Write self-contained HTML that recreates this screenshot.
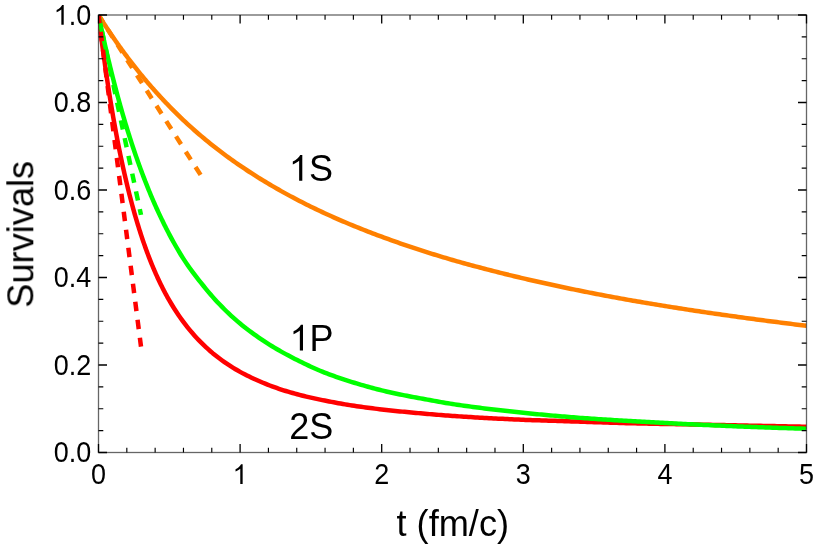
<!DOCTYPE html>
<html><head><meta charset="utf-8"><title>Survivals</title>
<style>
html,body{margin:0;padding:0;background:#fff;}
body{width:814px;height:545px;overflow:hidden;font-family:"Liberation Sans",sans-serif;}
svg{display:block;}
text{font-family:"Liberation Sans",sans-serif;fill:#000;}
.t{filter:grayscale(1);}
</style></head><body>
<svg width="814" height="545" viewBox="0 0 814 545">
<rect width="814" height="545" fill="#fff"/>
<defs><clipPath id="c"><rect x="98.5" y="15.0" width="708.0" height="437.5"/></clipPath></defs>
<g clip-path="url(#c)" fill="none" stroke-linejoin="round">
<path d="M98.50,15.00 L99.09,15.94 L99.68,16.88 L100.27,17.82 L100.86,18.75 L101.45,19.68 L102.04,20.60 L102.63,21.52 L103.22,22.44 L103.81,23.35 L104.40,24.26 L104.99,25.17 L105.58,26.07 L106.17,26.97 L106.76,27.87 L107.35,28.76 L107.94,29.65 L108.53,30.54 L109.12,31.42 L109.71,32.30 L110.30,33.18 L110.89,34.05 L111.48,34.92 L112.07,35.79 L112.66,36.65 L113.25,37.51 L113.84,38.37 L114.43,39.22 L115.02,40.07 L115.61,40.92 L116.20,41.76 L116.79,42.60 L117.38,43.44 L117.97,44.28 L118.56,45.11 L119.15,45.94 L119.74,46.76 L120.33,47.58 L120.92,48.40 L121.51,49.22 L122.10,50.03 L122.69,50.84 L123.28,51.65 L123.87,52.46 L124.46,53.26 L125.05,54.06 L125.64,54.85 L126.23,55.65 L126.82,56.44 L127.41,57.23 L128.00,58.01 L128.59,58.79 L129.18,59.57 L129.77,60.35 L130.36,61.12 L130.95,61.89 L131.54,62.66 L132.13,63.43 L132.72,64.19 L133.31,64.95 L133.90,65.71 L134.49,66.46 L135.08,67.21 L135.67,67.96 L136.26,68.71 L136.85,69.45 L137.44,70.19 L138.03,70.93 L138.62,71.66 L139.21,72.39 L139.80,73.12 L140.39,73.85 L140.98,74.57 L141.57,75.29 L142.16,76.01 L142.75,76.72 L143.34,77.44 L143.93,78.15 L144.52,78.85 L145.11,79.55 L145.70,80.26 L146.29,80.95 L146.88,81.65 L147.47,82.34 L148.06,83.03 L148.65,83.72 L149.24,84.40 L149.83,85.08 L150.42,85.76 L151.01,86.43 L151.60,87.11 L152.19,87.78 L152.78,88.45 L153.37,89.11 L153.96,89.78 L154.55,90.44 L155.14,91.10 L155.73,91.76 L156.32,92.41 L156.91,93.06 L157.50,93.71 L158.09,94.36 L158.68,95.01 L159.27,95.65 L159.86,96.29 L160.45,96.93 L161.04,97.57 L161.63,98.20 L162.22,98.84 L162.81,99.47 L163.40,100.10 L163.99,100.72 L164.58,101.35 L165.17,101.97 L165.76,102.59 L166.35,103.20 L166.94,103.82 L167.53,104.43 L168.12,105.04 L168.71,105.65 L169.30,106.26 L171.58,108.59 L173.87,110.88 L176.15,113.15 L178.44,115.38 L180.72,117.59 L183.00,119.76 L185.29,121.91 L187.57,124.03 L189.85,126.11 L192.14,128.17 L194.42,130.20 L196.71,132.20 L198.99,134.18 L201.27,136.13 L203.56,138.05 L205.84,139.94 L208.13,141.82 L210.41,143.66 L212.69,145.49 L214.98,147.29 L217.26,149.07 L219.55,150.82 L221.83,152.56 L224.11,154.27 L226.40,155.96 L228.68,157.64 L230.96,159.29 L233.25,160.92 L235.53,162.52 L237.82,164.11 L240.10,165.67 L242.38,167.22 L244.67,168.74 L246.95,170.25 L249.24,171.74 L251.52,173.21 L253.80,174.67 L256.09,176.12 L258.37,177.55 L260.65,178.97 L262.94,180.37 L265.22,181.76 L267.51,183.13 L269.79,184.50 L272.07,185.84 L274.36,187.18 L276.64,188.49 L278.93,189.80 L281.21,191.09 L283.49,192.37 L285.78,193.63 L288.06,194.88 L290.35,196.12 L292.63,197.35 L294.91,198.56 L297.20,199.76 L299.48,200.94 L301.76,202.11 L304.05,203.27 L306.33,204.42 L308.62,205.56 L310.90,206.68 L313.18,207.80 L315.47,208.90 L317.75,209.99 L320.04,211.07 L322.32,212.14 L324.60,213.20 L326.89,214.25 L329.17,215.28 L331.45,216.31 L333.74,217.33 L336.02,218.34 L338.31,219.34 L340.59,220.33 L342.87,221.31 L345.16,222.29 L347.44,223.25 L349.73,224.21 L352.01,225.15 L354.29,226.09 L356.58,227.02 L358.86,227.94 L361.15,228.86 L363.43,229.76 L365.71,230.66 L368.00,231.54 L370.28,232.42 L372.56,233.30 L374.85,234.16 L377.13,235.02 L379.42,235.87 L381.70,236.72 L383.98,237.56 L386.27,238.39 L388.55,239.22 L390.84,240.04 L393.12,240.85 L395.40,241.66 L397.69,242.46 L399.97,243.26 L402.25,244.05 L404.54,244.84 L406.82,245.62 L409.11,246.39 L411.39,247.16 L413.67,247.92 L415.96,248.67 L418.24,249.42 L420.53,250.16 L422.81,250.90 L425.09,251.63 L427.38,252.36 L429.66,253.08 L431.95,253.79 L434.23,254.50 L436.51,255.20 L438.80,255.90 L441.08,256.59 L443.36,257.28 L445.65,257.96 L447.93,258.64 L450.22,259.31 L452.50,259.98 L454.78,260.64 L457.07,261.29 L459.35,261.94 L461.64,262.58 L463.92,263.22 L466.20,263.85 L468.49,264.48 L470.77,265.10 L473.05,265.72 L475.34,266.34 L477.62,266.95 L479.91,267.55 L482.19,268.15 L484.47,268.75 L486.76,269.34 L489.04,269.93 L491.33,270.52 L493.61,271.10 L495.89,271.68 L498.18,272.26 L500.46,272.83 L502.75,273.40 L505.03,273.97 L507.31,274.54 L509.60,275.09 L511.88,275.65 L514.16,276.20 L516.45,276.75 L518.73,277.30 L521.02,277.84 L523.30,278.38 L525.58,278.91 L527.87,279.44 L530.15,279.97 L532.44,280.49 L534.72,281.02 L537.00,281.53 L539.29,282.05 L541.57,282.56 L543.85,283.07 L546.14,283.57 L548.42,284.07 L550.71,284.57 L552.99,285.07 L555.27,285.56 L557.56,286.05 L559.84,286.54 L562.13,287.02 L564.41,287.50 L566.69,287.98 L568.98,288.46 L571.26,288.93 L573.55,289.40 L575.83,289.87 L578.11,290.33 L580.40,290.79 L582.68,291.25 L584.96,291.71 L587.25,292.16 L589.53,292.61 L591.82,293.06 L594.10,293.50 L596.38,293.95 L598.67,294.39 L600.95,294.82 L603.24,295.26 L605.52,295.69 L607.80,296.12 L610.09,296.55 L612.37,296.97 L614.65,297.39 L616.94,297.81 L619.22,298.22 L621.51,298.63 L623.79,299.04 L626.07,299.45 L628.36,299.85 L630.64,300.26 L632.93,300.66 L635.21,301.05 L637.49,301.45 L639.78,301.84 L642.06,302.23 L644.35,302.62 L646.63,303.00 L648.91,303.39 L651.20,303.77 L653.48,304.15 L655.76,304.52 L658.05,304.90 L660.33,305.27 L662.62,305.64 L664.90,306.01 L667.18,306.38 L669.47,306.74 L671.75,307.11 L674.04,307.47 L676.32,307.83 L678.60,308.19 L680.89,308.55 L683.17,308.90 L685.45,309.26 L687.74,309.61 L690.02,309.96 L692.31,310.31 L694.59,310.65 L696.87,311.00 L699.16,311.34 L701.44,311.68 L703.73,312.02 L706.01,312.36 L708.29,312.69 L710.58,313.03 L712.86,313.36 L715.15,313.69 L717.43,314.02 L719.71,314.35 L722.00,314.67 L724.28,315.00 L726.56,315.32 L728.85,315.64 L731.13,315.96 L733.42,316.28 L735.70,316.60 L737.98,316.92 L740.27,317.23 L742.55,317.54 L744.84,317.86 L747.12,318.17 L749.40,318.48 L751.69,318.79 L753.97,319.09 L756.25,319.40 L758.54,319.70 L760.82,320.01 L763.11,320.31 L765.39,320.61 L767.67,320.91 L769.96,321.21 L772.24,321.50 L774.53,321.80 L776.81,322.09 L779.09,322.39 L781.38,322.68 L783.66,322.97 L785.95,323.26 L788.23,323.55 L790.51,323.83 L792.80,324.12 L795.08,324.40 L797.36,324.69 L799.65,324.97 L801.93,325.25 L804.22,325.53 L806.50,325.81" stroke="#ff8000" stroke-width="4.5"/>
<path d="M98.50,15.00 L99.09,19.88 L99.68,24.68 L100.27,29.41 L100.86,34.07 L101.45,38.65 L102.04,43.17 L102.63,47.62 L103.22,52.00 L103.81,56.31 L104.40,60.56 L104.99,64.75 L105.58,68.87 L106.17,72.93 L106.76,76.93 L107.35,80.88 L107.94,84.76 L108.53,88.59 L109.12,92.36 L109.71,96.08 L110.30,99.75 L110.89,103.36 L111.48,106.91 L112.07,110.42 L112.66,113.88 L113.25,117.29 L113.84,120.65 L114.43,123.96 L115.02,127.22 L115.61,130.44 L116.20,133.62 L116.79,136.75 L117.38,139.83 L117.97,142.88 L118.56,145.88 L119.15,148.84 L119.74,151.76 L120.33,154.63 L120.92,157.47 L121.51,160.27 L122.10,163.04 L122.69,165.76 L123.28,168.45 L123.87,171.10 L124.46,173.72 L125.05,176.30 L125.64,178.85 L126.23,181.36 L126.82,183.84 L127.41,186.28 L128.00,188.70 L128.59,191.08 L129.18,193.43 L129.77,195.75 L130.36,198.04 L130.95,200.30 L131.54,202.53 L132.13,204.74 L132.72,206.91 L133.31,209.06 L133.90,211.18 L134.49,213.27 L135.08,215.33 L135.67,217.37 L136.26,219.38 L136.85,221.37 L137.44,223.33 L138.03,225.27 L138.62,227.18 L139.21,229.07 L139.80,230.94 L140.39,232.78 L140.98,234.60 L141.57,236.40 L142.16,238.18 L142.75,239.93 L143.34,241.66 L143.93,243.37 L144.52,245.06 L145.11,246.73 L145.70,248.38 L146.29,250.01 L146.88,251.62 L147.47,253.21 L148.06,254.78 L148.65,256.33 L149.24,257.87 L149.83,259.38 L150.42,260.88 L151.01,262.36 L151.60,263.82 L152.19,265.26 L152.78,266.69 L153.37,268.10 L153.96,269.49 L154.55,270.86 L155.14,272.22 L155.73,273.56 L156.32,274.88 L156.91,276.19 L157.50,277.48 L158.09,278.76 L158.68,280.02 L159.27,281.27 L159.86,282.50 L160.45,283.72 L161.04,284.93 L161.63,286.11 L162.22,287.29 L162.81,288.45 L163.40,289.60 L163.99,290.74 L164.58,291.86 L165.17,292.97 L165.76,294.07 L166.35,295.15 L166.94,296.22 L167.53,297.29 L168.12,298.33 L168.71,299.37 L169.30,300.40 L171.58,304.26 L173.87,307.97 L176.15,311.53 L178.44,314.95 L180.72,318.24 L183.00,321.39 L185.29,324.42 L187.57,327.34 L189.85,330.14 L192.14,332.83 L194.42,335.43 L196.71,337.93 L198.99,340.34 L201.27,342.68 L203.56,344.93 L205.84,347.09 L208.13,349.18 L210.41,351.19 L212.69,353.14 L214.98,355.01 L217.26,356.82 L219.55,358.56 L221.83,360.25 L224.11,361.88 L226.40,363.45 L228.68,364.97 L230.96,366.44 L233.25,367.86 L235.53,369.23 L237.82,370.56 L240.10,371.85 L242.38,373.10 L244.67,374.30 L246.95,375.47 L249.24,376.60 L251.52,377.70 L253.80,378.77 L256.09,379.80 L258.37,380.82 L260.65,381.80 L262.94,382.76 L265.22,383.69 L267.51,384.60 L269.79,385.48 L272.07,386.33 L274.36,387.17 L276.64,387.98 L278.93,388.76 L281.21,389.53 L283.49,390.27 L285.78,390.99 L288.06,391.69 L290.35,392.36 L292.63,393.02 L294.91,393.65 L297.20,394.27 L299.48,394.87 L301.76,395.46 L304.05,396.03 L306.33,396.58 L308.62,397.13 L310.90,397.65 L313.18,398.17 L315.47,398.67 L317.75,399.16 L320.04,399.64 L322.32,400.11 L324.60,400.57 L326.89,401.02 L329.17,401.47 L331.45,401.90 L333.74,402.33 L336.02,402.75 L338.31,403.17 L340.59,403.57 L342.87,403.97 L345.16,404.35 L347.44,404.73 L349.73,405.10 L352.01,405.46 L354.29,405.81 L356.58,406.15 L358.86,406.48 L361.15,406.80 L363.43,407.12 L365.71,407.43 L368.00,407.74 L370.28,408.03 L372.56,408.32 L374.85,408.61 L377.13,408.89 L379.42,409.16 L381.70,409.43 L383.98,409.69 L386.27,409.95 L388.55,410.20 L390.84,410.45 L393.12,410.69 L395.40,410.93 L397.69,411.16 L399.97,411.39 L402.25,411.62 L404.54,411.85 L406.82,412.07 L409.11,412.29 L411.39,412.50 L413.67,412.71 L415.96,412.92 L418.24,413.13 L420.53,413.34 L422.81,413.54 L425.09,413.74 L427.38,413.94 L429.66,414.13 L431.95,414.32 L434.23,414.51 L436.51,414.70 L438.80,414.88 L441.08,415.06 L443.36,415.24 L445.65,415.41 L447.93,415.58 L450.22,415.75 L452.50,415.91 L454.78,416.07 L457.07,416.22 L459.35,416.38 L461.64,416.52 L463.92,416.67 L466.20,416.82 L468.49,416.96 L470.77,417.10 L473.05,417.24 L475.34,417.38 L477.62,417.51 L479.91,417.64 L482.19,417.77 L484.47,417.90 L486.76,418.03 L489.04,418.16 L491.33,418.28 L493.61,418.40 L495.89,418.52 L498.18,418.64 L500.46,418.75 L502.75,418.87 L505.03,418.98 L507.31,419.09 L509.60,419.19 L511.88,419.30 L514.16,419.40 L516.45,419.50 L518.73,419.60 L521.02,419.70 L523.30,419.79 L525.58,419.88 L527.87,419.97 L530.15,420.06 L532.44,420.14 L534.72,420.22 L537.00,420.30 L539.29,420.37 L541.57,420.45 L543.85,420.52 L546.14,420.59 L548.42,420.66 L550.71,420.73 L552.99,420.80 L555.27,420.87 L557.56,420.95 L559.84,421.02 L562.13,421.09 L564.41,421.16 L566.69,421.23 L568.98,421.31 L571.26,421.39 L573.55,421.46 L575.83,421.54 L578.11,421.62 L580.40,421.69 L582.68,421.77 L584.96,421.85 L587.25,421.92 L589.53,422.00 L591.82,422.07 L594.10,422.15 L596.38,422.22 L598.67,422.30 L600.95,422.37 L603.24,422.44 L605.52,422.52 L607.80,422.59 L610.09,422.66 L612.37,422.73 L614.65,422.80 L616.94,422.87 L619.22,422.93 L621.51,423.00 L623.79,423.06 L626.07,423.13 L628.36,423.19 L630.64,423.25 L632.93,423.31 L635.21,423.37 L637.49,423.42 L639.78,423.47 L642.06,423.53 L644.35,423.58 L646.63,423.62 L648.91,423.67 L651.20,423.71 L653.48,423.76 L655.76,423.80 L658.05,423.84 L660.33,423.88 L662.62,423.93 L664.90,423.97 L667.18,424.00 L669.47,424.04 L671.75,424.08 L674.04,424.12 L676.32,424.16 L678.60,424.20 L680.89,424.24 L683.17,424.28 L685.45,424.32 L687.74,424.37 L690.02,424.41 L692.31,424.45 L694.59,424.50 L696.87,424.55 L699.16,424.59 L701.44,424.64 L703.73,424.69 L706.01,424.74 L708.29,424.79 L710.58,424.84 L712.86,424.89 L715.15,424.93 L717.43,424.98 L719.71,425.03 L722.00,425.08 L724.28,425.12 L726.56,425.17 L728.85,425.22 L731.13,425.26 L733.42,425.31 L735.70,425.36 L737.98,425.40 L740.27,425.45 L742.55,425.49 L744.84,425.54 L747.12,425.58 L749.40,425.63 L751.69,425.68 L753.97,425.72 L756.25,425.77 L758.54,425.81 L760.82,425.86 L763.11,425.90 L765.39,425.95 L767.67,425.99 L769.96,426.03 L772.24,426.08 L774.53,426.12 L776.81,426.17 L779.09,426.21 L781.38,426.26 L783.66,426.30 L785.95,426.35 L788.23,426.39 L790.51,426.44 L792.80,426.48 L795.08,426.53 L797.36,426.57 L799.65,426.62 L801.93,426.66 L804.22,426.71 L806.50,426.75" stroke="#ff0000" stroke-width="4.5"/>
<path d="M98.50,15.00 L99.09,17.84 L99.68,20.65 L100.27,23.44 L100.86,26.21 L101.45,28.95 L102.04,31.68 L102.63,34.38 L103.22,37.05 L103.81,39.71 L104.40,42.34 L104.99,44.95 L105.58,47.54 L106.17,50.10 L106.76,52.65 L107.35,55.18 L107.94,57.68 L108.53,60.16 L109.12,62.63 L109.71,65.07 L110.30,67.50 L110.89,69.90 L111.48,72.28 L112.07,74.65 L112.66,76.99 L113.25,79.32 L113.84,81.63 L114.43,83.91 L115.02,86.18 L115.61,88.44 L116.20,90.67 L116.79,92.88 L117.38,95.08 L117.97,97.26 L118.56,99.42 L119.15,101.57 L119.74,103.70 L120.33,105.81 L120.92,107.90 L121.51,109.98 L122.10,112.04 L122.69,114.08 L123.28,116.11 L123.87,118.12 L124.46,120.12 L125.05,122.10 L125.64,124.06 L126.23,126.01 L126.82,127.94 L127.41,129.86 L128.00,131.76 L128.59,133.65 L129.18,135.52 L129.77,137.38 L130.36,139.22 L130.95,141.05 L131.54,142.87 L132.13,144.67 L132.72,146.46 L133.31,148.23 L133.90,149.99 L134.49,151.73 L135.08,153.46 L135.67,155.18 L136.26,156.89 L136.85,158.58 L137.44,160.26 L138.03,161.92 L138.62,163.57 L139.21,165.21 L139.80,166.84 L140.39,168.46 L140.98,170.06 L141.57,171.65 L142.16,173.23 L142.75,174.79 L143.34,176.35 L143.93,177.89 L144.52,179.42 L145.11,180.94 L145.70,182.44 L146.29,183.94 L146.88,185.42 L147.47,186.90 L148.06,188.36 L148.65,189.81 L149.24,191.25 L149.83,192.68 L150.42,194.10 L151.01,195.51 L151.60,196.90 L152.19,198.29 L152.78,199.67 L153.37,201.03 L153.96,202.39 L154.55,203.73 L155.14,205.07 L155.73,206.39 L156.32,207.71 L156.91,209.02 L157.50,210.31 L158.09,211.60 L158.68,212.88 L159.27,214.14 L159.86,215.40 L160.45,216.65 L161.04,217.89 L161.63,219.12 L162.22,220.34 L162.81,221.56 L163.40,222.76 L163.99,223.96 L164.58,225.14 L165.17,226.32 L165.76,227.49 L166.35,228.65 L166.94,229.80 L167.53,230.95 L168.12,232.08 L168.71,233.21 L169.30,234.33 L171.58,238.58 L173.87,242.72 L176.15,246.75 L178.44,250.67 L180.72,254.47 L183.00,258.13 L185.29,261.64 L187.57,265.01 L189.85,268.26 L192.14,271.40 L194.42,274.46 L196.71,277.43 L198.99,280.34 L201.27,283.21 L203.56,286.03 L205.84,288.83 L208.13,291.58 L210.41,294.25 L212.69,296.86 L214.98,299.41 L217.26,301.90 L219.55,304.32 L221.83,306.68 L224.11,308.99 L226.40,311.24 L228.68,313.43 L230.96,315.57 L233.25,317.65 L235.53,319.68 L237.82,321.66 L240.10,323.59 L242.38,325.46 L244.67,327.27 L246.95,329.03 L249.24,330.75 L251.52,332.43 L253.80,334.08 L256.09,335.70 L258.37,337.30 L260.65,338.88 L262.94,340.42 L265.22,341.93 L267.51,343.40 L269.79,344.84 L272.07,346.25 L274.36,347.63 L276.64,348.98 L278.93,350.31 L281.21,351.60 L283.49,352.87 L285.78,354.11 L288.06,355.33 L290.35,356.52 L292.63,357.70 L294.91,358.88 L297.20,360.05 L299.48,361.21 L301.76,362.34 L304.05,363.46 L306.33,364.54 L308.62,365.62 L310.90,366.68 L313.18,367.72 L315.47,368.74 L317.75,369.74 L320.04,370.71 L322.32,371.65 L324.60,372.55 L326.89,373.44 L329.17,374.30 L331.45,375.15 L333.74,375.98 L336.02,376.79 L338.31,377.58 L340.59,378.36 L342.87,379.13 L345.16,379.88 L347.44,380.61 L349.73,381.34 L352.01,382.05 L354.29,382.75 L356.58,383.44 L358.86,384.12 L361.15,384.79 L363.43,385.45 L365.71,386.10 L368.00,386.75 L370.28,387.38 L372.56,388.00 L374.85,388.61 L377.13,389.20 L379.42,389.78 L381.70,390.35 L383.98,390.91 L386.27,391.45 L388.55,391.97 L390.84,392.48 L393.12,392.98 L395.40,393.48 L397.69,393.96 L399.97,394.44 L402.25,394.91 L404.54,395.37 L406.82,395.83 L409.11,396.28 L411.39,396.72 L413.67,397.15 L415.96,397.58 L418.24,398.00 L420.53,398.41 L422.81,398.83 L425.09,399.25 L427.38,399.66 L429.66,400.08 L431.95,400.50 L434.23,400.91 L436.51,401.32 L438.80,401.73 L441.08,402.13 L443.36,402.52 L445.65,402.91 L447.93,403.28 L450.22,403.65 L452.50,404.01 L454.78,404.36 L457.07,404.70 L459.35,405.03 L461.64,405.36 L463.92,405.69 L466.20,406.01 L468.49,406.33 L470.77,406.64 L473.05,406.94 L475.34,407.25 L477.62,407.55 L479.91,407.84 L482.19,408.13 L484.47,408.42 L486.76,408.70 L489.04,408.98 L491.33,409.26 L493.61,409.53 L495.89,409.80 L498.18,410.07 L500.46,410.33 L502.75,410.59 L505.03,410.85 L507.31,411.10 L509.60,411.35 L511.88,411.60 L514.16,411.84 L516.45,412.09 L518.73,412.32 L521.02,412.56 L523.30,412.80 L525.58,413.03 L527.87,413.26 L530.15,413.49 L532.44,413.71 L534.72,413.93 L537.00,414.15 L539.29,414.37 L541.57,414.59 L543.85,414.80 L546.14,415.01 L548.42,415.22 L550.71,415.43 L552.99,415.63 L555.27,415.83 L557.56,416.03 L559.84,416.23 L562.13,416.42 L564.41,416.61 L566.69,416.80 L568.98,416.98 L571.26,417.17 L573.55,417.35 L575.83,417.52 L578.11,417.70 L580.40,417.87 L582.68,418.03 L584.96,418.20 L587.25,418.36 L589.53,418.52 L591.82,418.67 L594.10,418.83 L596.38,418.98 L598.67,419.13 L600.95,419.28 L603.24,419.42 L605.52,419.57 L607.80,419.71 L610.09,419.85 L612.37,419.99 L614.65,420.13 L616.94,420.27 L619.22,420.40 L621.51,420.54 L623.79,420.68 L626.07,420.81 L628.36,420.95 L630.64,421.08 L632.93,421.21 L635.21,421.35 L637.49,421.48 L639.78,421.61 L642.06,421.74 L644.35,421.87 L646.63,421.99 L648.91,422.12 L651.20,422.25 L653.48,422.37 L655.76,422.49 L658.05,422.62 L660.33,422.74 L662.62,422.86 L664.90,422.98 L667.18,423.10 L669.47,423.21 L671.75,423.33 L674.04,423.45 L676.32,423.56 L678.60,423.68 L680.89,423.79 L683.17,423.90 L685.45,424.01 L687.74,424.13 L690.02,424.24 L692.31,424.35 L694.59,424.46 L696.87,424.56 L699.16,424.67 L701.44,424.78 L703.73,424.89 L706.01,424.99 L708.29,425.10 L710.58,425.20 L712.86,425.30 L715.15,425.41 L717.43,425.51 L719.71,425.61 L722.00,425.71 L724.28,425.81 L726.56,425.90 L728.85,426.00 L731.13,426.10 L733.42,426.19 L735.70,426.29 L737.98,426.38 L740.27,426.47 L742.55,426.56 L744.84,426.65 L747.12,426.74 L749.40,426.83 L751.69,426.92 L753.97,427.00 L756.25,427.09 L758.54,427.17 L760.82,427.26 L763.11,427.34 L765.39,427.42 L767.67,427.50 L769.96,427.58 L772.24,427.66 L774.53,427.74 L776.81,427.82 L779.09,427.89 L781.38,427.97 L783.66,428.05 L785.95,428.12 L788.23,428.19 L790.51,428.27 L792.80,428.34 L795.08,428.41 L797.36,428.48 L799.65,428.55 L801.93,428.62 L804.22,428.69 L806.50,428.76" stroke="#00ff00" stroke-width="4.5"/>
<path d="M98.50,15.00 L201.30,176.00" stroke="#ff8000" stroke-width="4.5" stroke-dasharray="9.4 8.74" stroke-dashoffset="1.1"/>
<path d="M98.50,15.00 L141.00,214.90" stroke="#00ff00" stroke-width="4.5" stroke-dasharray="9.4 8.74" stroke-dashoffset="1.1"/>
<path d="M98.50,15.00 L141.00,346.60" stroke="#ff0000" stroke-width="4.5" stroke-dasharray="9.4 8.74" stroke-dashoffset="1.1"/>
</g>
<g fill="none" stroke="#000">
<rect x="98.5" y="15.0" width="708.0" height="437.5" stroke-opacity="0.6" stroke-width="1.3"/>
<path d="M126.82,452.5 v-4.8 M126.82,15.0 v4.8 M155.14,452.5 v-4.8 M155.14,15.0 v4.8 M183.46,452.5 v-4.8 M183.46,15.0 v4.8 M211.78,452.5 v-4.8 M211.78,15.0 v4.8 M268.42,452.5 v-4.8 M268.42,15.0 v4.8 M296.74,452.5 v-4.8 M296.74,15.0 v4.8 M325.06,452.5 v-4.8 M325.06,15.0 v4.8 M353.38,452.5 v-4.8 M353.38,15.0 v4.8 M410.02,452.5 v-4.8 M410.02,15.0 v4.8 M438.34,452.5 v-4.8 M438.34,15.0 v4.8 M466.66,452.5 v-4.8 M466.66,15.0 v4.8 M494.98,452.5 v-4.8 M494.98,15.0 v4.8 M551.62,452.5 v-4.8 M551.62,15.0 v4.8 M579.94,452.5 v-4.8 M579.94,15.0 v4.8 M608.26,452.5 v-4.8 M608.26,15.0 v4.8 M636.58,452.5 v-4.8 M636.58,15.0 v4.8 M693.22,452.5 v-4.8 M693.22,15.0 v4.8 M721.54,452.5 v-4.8 M721.54,15.0 v4.8 M749.86,452.5 v-4.8 M749.86,15.0 v4.8 M778.18,452.5 v-4.8 M778.18,15.0 v4.8 M98.5,430.62 h4.8 M806.5,430.62 h-4.8 M98.5,408.75 h4.8 M806.5,408.75 h-4.8 M98.5,386.88 h4.8 M806.5,386.88 h-4.8 M98.5,343.12 h4.8 M806.5,343.12 h-4.8 M98.5,321.25 h4.8 M806.5,321.25 h-4.8 M98.5,299.38 h4.8 M806.5,299.38 h-4.8 M98.5,255.62 h4.8 M806.5,255.62 h-4.8 M98.5,233.75 h4.8 M806.5,233.75 h-4.8 M98.5,211.87 h4.8 M806.5,211.87 h-4.8 M98.5,168.12 h4.8 M806.5,168.12 h-4.8 M98.5,146.25 h4.8 M806.5,146.25 h-4.8 M98.5,124.38 h4.8 M806.5,124.38 h-4.8 M98.5,80.62 h4.8 M806.5,80.62 h-4.8 M98.5,58.75 h4.8 M806.5,58.75 h-4.8 M98.5,36.87 h4.8 M806.5,36.87 h-4.8" stroke-opacity="1" stroke-width="1.15"/>
<path d="M98.50,452.5 v-8.5 M98.50,15.0 v8.5 M240.10,452.5 v-8.5 M240.10,15.0 v8.5 M381.70,452.5 v-8.5 M381.70,15.0 v8.5 M523.30,452.5 v-8.5 M523.30,15.0 v8.5 M664.90,452.5 v-8.5 M664.90,15.0 v8.5 M806.50,452.5 v-8.5 M806.50,15.0 v8.5 M98.5,452.50 h8.5 M806.5,452.50 h-8.5 M98.5,365.00 h8.5 M806.5,365.00 h-8.5 M98.5,277.50 h8.5 M806.5,277.50 h-8.5 M98.5,190.00 h8.5 M806.5,190.00 h-8.5 M98.5,102.50 h8.5 M806.5,102.50 h-8.5 M98.5,15.00 h8.5 M806.5,15.00 h-8.5" stroke-opacity="1" stroke-width="1.3"/>
</g>
<g class="t" font-size="27"><text transform="translate(98.50,473.90) scale(1,1.065)" y="9.6" text-anchor="middle">0</text><path d="M763 0H583V1147Q518 1085 412.5 1023T223 930V1104Q373 1174.5 485 1275T644 1472H763Z" transform="translate(232.59,484.12) scale(0.01318,-0.01345)"/><text transform="translate(381.70,473.90) scale(1,1.065)" y="9.6" text-anchor="middle">2</text><text transform="translate(523.30,473.90) scale(1,1.065)" y="9.6" text-anchor="middle">3</text><text transform="translate(664.90,473.90) scale(1,1.065)" y="9.6" text-anchor="middle">4</text><text transform="translate(806.50,473.90) scale(1,1.065)" y="9.6" text-anchor="middle">5</text><text transform="translate(91.2,452.10) scale(1,1.065)" y="9.6" text-anchor="end">0.0</text><text transform="translate(91.2,364.60) scale(1,1.065)" y="9.6" text-anchor="end">0.2</text><text transform="translate(91.2,277.10) scale(1,1.065)" y="9.6" text-anchor="end">0.4</text><text transform="translate(91.2,189.60) scale(1,1.065)" y="9.6" text-anchor="end">0.6</text><text transform="translate(91.2,102.10) scale(1,1.065)" y="9.6" text-anchor="end">0.8</text><path d="M763 0H583V1147Q518 1085 412.5 1023T223 930V1104Q373 1174.5 485 1275T644 1472H763Z" transform="translate(53.67,24.82) scale(0.01318,-0.01345)"/><text transform="translate(91.2,14.60) scale(1,1.065)" y="9.6" text-anchor="end">.0</text></g>
<g class="t" font-size="36">
<path d="M763 0H583V1147Q518 1085 412.5 1023T223 930V1104Q373 1174.5 485 1275T644 1472H763Z" transform="translate(288.89,180.80) scale(0.01758,-0.01758)"/><text x="308.90" y="180.8">S</text>
<path d="M763 0H583V1147Q518 1085 412.5 1023T223 930V1104Q373 1174.5 485 1275T644 1472H763Z" transform="translate(289.59,350.60) scale(0.01758,-0.01758)"/><text x="309.60" y="350.6">P</text>
<text x="311.2" y="439.0" text-anchor="middle">2S</text>
</g>
<g class="t"><text font-size="36.2" x="452.8" y="536.0" text-anchor="middle">t (fm/c)</text>
<text font-size="36.2" transform="translate(33.3,234.3) rotate(-90)" text-anchor="middle">Survivals</text></g>
</svg>
</body></html>
